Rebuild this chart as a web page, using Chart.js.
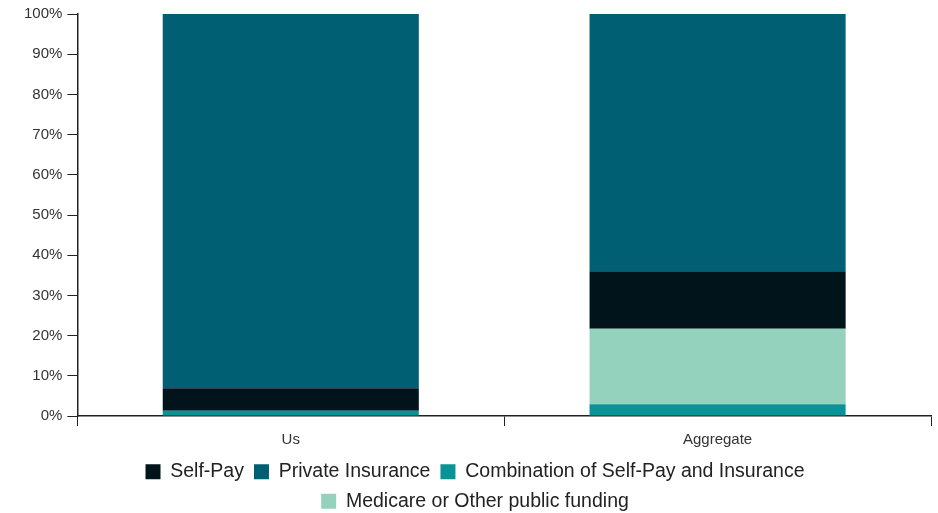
<!DOCTYPE html>
<html>
<head>
<meta charset="utf-8">
<script src="https://cdn.jsdelivr.net/npm/chart.js@4"></script>
<style>
  html, body { margin: 0; padding: 0; background: #fff; }
</style>
</head>
<body>
<canvas id="grafico" width="938" height="513"></canvas>
<script>
const categorias = ["Us", "Aggregate"]
// stacked bottom to top
const combinacion = [1.3, 2.9]
const medicare = [0, 18.8]
const selfPay = [5.6, 14.3]
const privado = [93.1, 64.0]
const ticksY = ["0%", "10%", "20%", "30%", "40%", "50%", "60%", "70%", "80%", "90%", "100%"]

// order the legend shows the series in
const ordenLeyenda = ["Self-Pay", "Private Insurance", "Combination of Self-Pay and Insurance", "Medicare or Other public funding"]

Chart.defaults.font.family = "'Liberation Sans', Arial, sans-serif"

const data = {
  labels: categorias,
  datasets: [
    { label: "Combination of Self-Pay and Insurance", data: combinacion, backgroundColor: "#0a9396" },
    { label: "Medicare or Other public funding", data: medicare, backgroundColor: "#94d2bd" },
    { label: "Self-Pay", data: selfPay, backgroundColor: "#02141b" },
    { label: "Private Insurance", data: privado, backgroundColor: "#005f73" },
  ]
}

const config = {
  type: "bar",
  data: data,
  options: {
    responsive: false,
    animation: false,
    barPercentage: 0.6,
    categoryPercentage: 1,
    layout: { padding: { top: 9, right: 7, left: 19, bottom: -8 } },
    plugins: {
      tooltip: { enabled: false },
      legend: {
        position: "bottom",
        labels: {
          boxWidth: 15,
          boxHeight: 15,
          padding: 10,
          color: "#222",
          font: { size: 19.5 },
          sort: (a, b) => ordenLeyenda.indexOf(a.text) - ordenLeyenda.indexOf(b.text)
        }
      }
    },
    scales: {
      x: {
        stacked: true,
        offset: true,
        afterFit: (eje) => { eje.height -= 2 },
        grid: { offset: true, drawOnChartArea: false, color: "#222", tickLength: 10 },
        border: { color: "#222", width: 1.5 },
        ticks: { color: "#333", font: { size: 15 }, padding: 5 }
      },
      y: {
        stacked: true,
        min: 0,
        max: 100,
        grid: { drawOnChartArea: false, color: "#222", tickLength: 10 },
        border: { color: "#222", width: 1.5 },
        ticks: {
          stepSize: 10,
          color: "#333",
          font: { size: 15 },
          padding: 5,
          callback: (v, i) => ticksY[i]
        }
      }
    }
  }
}

const myChart = new Chart(document.getElementById("grafico"), config)
</script>
</body>
</html>
